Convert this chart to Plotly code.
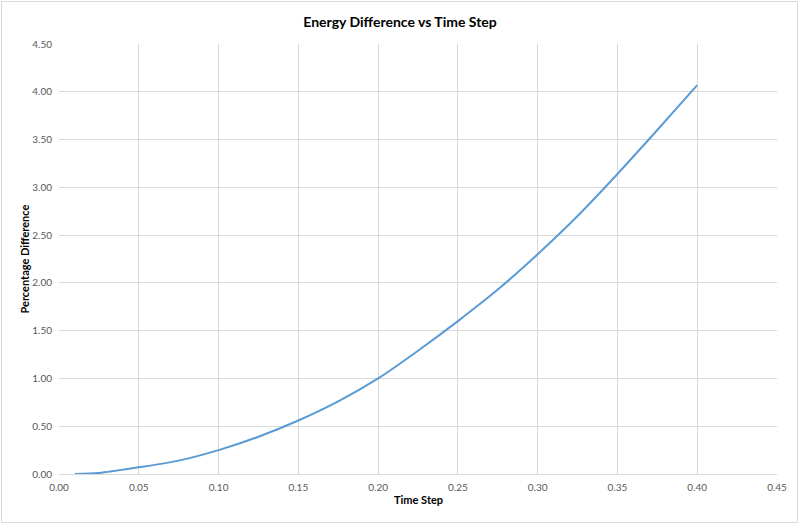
import plotly.graph_objects as go

time_step = [0.01, 0.025, 0.05, 0.075, 0.10, 0.125, 0.15, 0.175, 0.20, 0.225, 0.25, 0.275, 0.30, 0.325, 0.35, 0.375, 0.40]
pct_diff = [0.00, 0.01, 0.07, 0.14, 0.25, 0.39, 0.56, 0.76, 1.00, 1.29, 1.60, 1.93, 2.30, 2.70, 3.14, 3.60, 4.07]

L, R, T, B = 59, 800 - 777, 44, 526 - 474
W, H = 800, 526
pw, ph = W - L - R, H - T - B


def px_x(px):
    return (px - L) / pw


def px_y(py):
    return (H - B - py) / ph


fig = go.Figure()
fig.add_trace(go.Scatter(
    x=time_step, y=pct_diff, mode="lines",
    line=dict(color="#5B9BD5", width=2, shape="spline", smoothing=0.8),
    hoverinfo="skip", showlegend=False,
))

font_family = "Lato, 'Open Sans', sans-serif"
fig.update_layout(
    width=W, height=H,
    margin=dict(l=L, r=R, t=T, b=B),
    paper_bgcolor="white", plot_bgcolor="white",
    title=dict(text="<b>Energy Difference vs Time Step</b>", x=0.5, xanchor="center",
               y=1 - 22 / H, yanchor="middle",
               font=dict(family=font_family, size=14, color="#000000")),
    font=dict(family=font_family, color="#595959"),
    xaxis=dict(range=[0, 0.45], dtick=0.05, tickformat=".2f", showgrid=True,
               gridcolor="#d9d9d9", gridwidth=1, zeroline=False, showline=True,
               linecolor="#d9d9d9", ticks="", ticklabelstandoff=4,
               tickfont=dict(size=10, color="#595959")),
    yaxis=dict(range=[0, 4.5], dtick=0.5, tickformat=".2f", showgrid=True,
               gridcolor="#d9d9d9", gridwidth=1, zeroline=False, showline=False,
               ticks="", ticklabelstandoff=6, tickfont=dict(size=10, color="#595959")),
)

fig.add_annotation(text="<b>Time Step</b>", xref="paper", yref="paper",
                   x=px_x(418), y=px_y(500), xanchor="center", yanchor="middle",
                   showarrow=False, font=dict(family=font_family, size=11, color="#000000"))
fig.add_annotation(text="<b>Percentage Difference</b>", xref="paper", yref="paper",
                   x=px_x(23.5), y=px_y(259), xanchor="center", yanchor="middle", textangle=-90,
                   showarrow=False, font=dict(family=font_family, size=11, color="#000000"))

fig.add_shape(type="rect", xref="paper", yref="paper",
              x0=px_x(1.5), x1=px_x(797.5), y0=px_y(522.5), y1=px_y(1.5),
              line=dict(color="#d9d9d9", width=1), fillcolor="rgba(0,0,0,0)", layer="below")

fig.write_html("out.html", config={"displayModeBar": False},
               post_script="document.body.style.margin='0';document.body.style.overflow='hidden';")
